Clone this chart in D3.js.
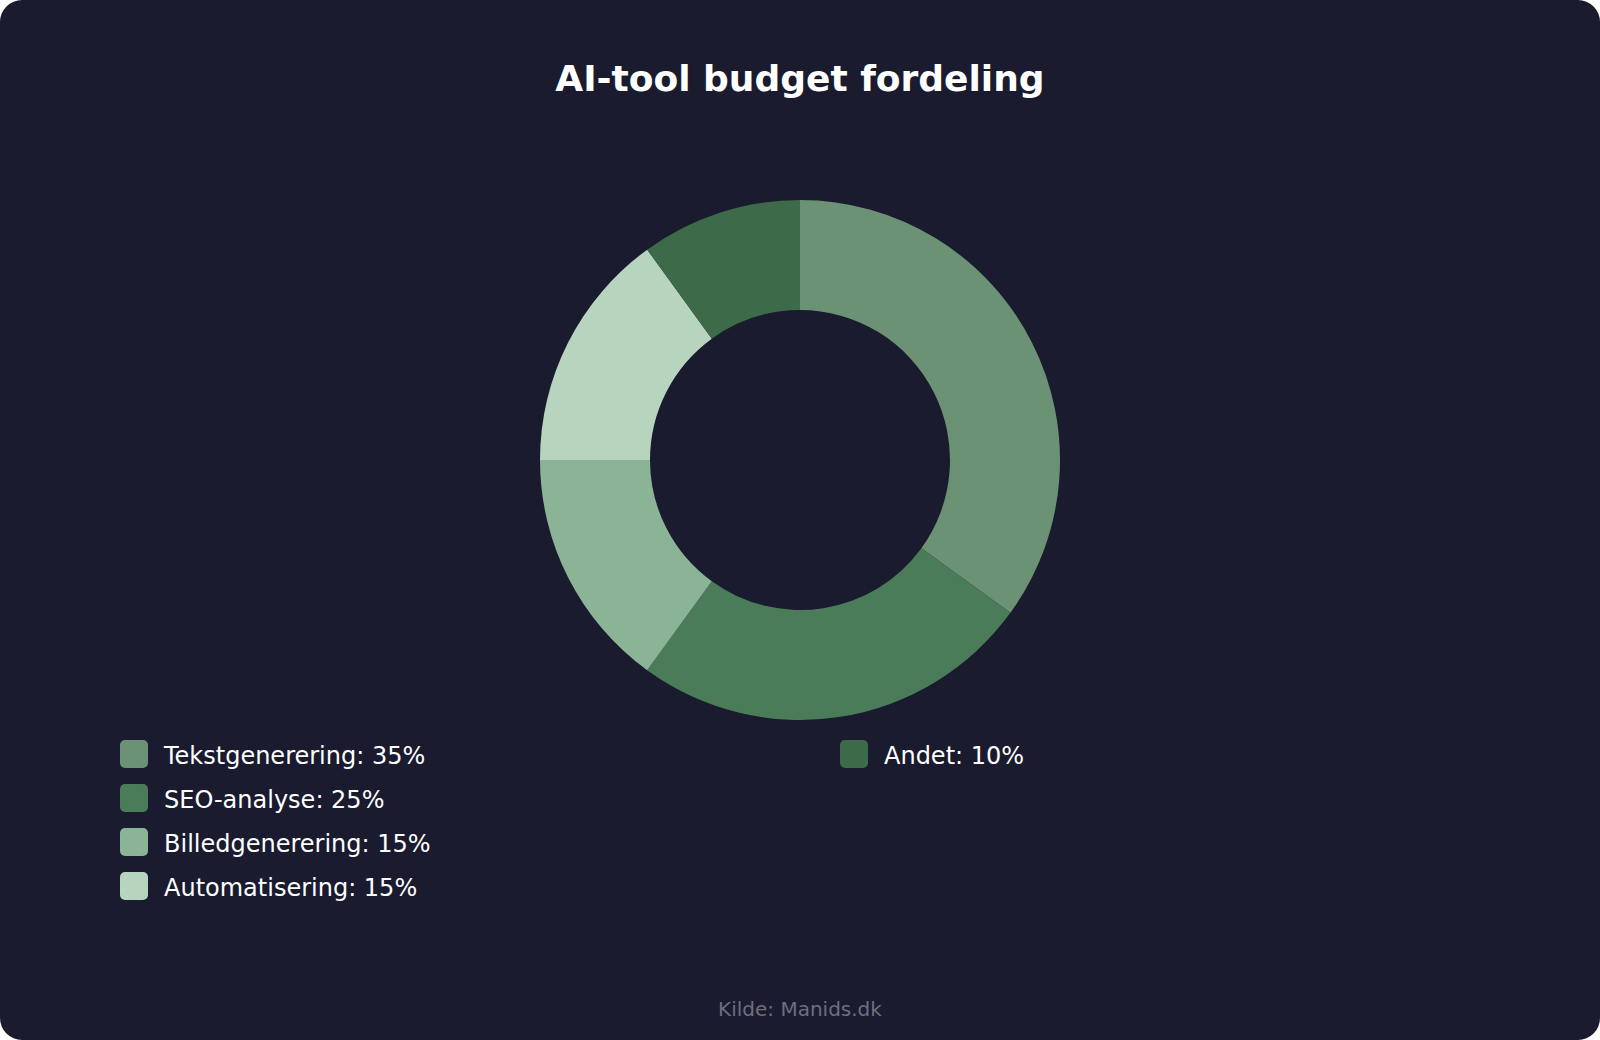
<!DOCTYPE html>
<html>
<head>
<meta charset="utf-8">
<script src="https://cdn.jsdelivr.net/npm/d3@7/dist/d3.min.js"></script>
<style>
  html, body { margin: 0; padding: 0; background: #ffffff; }
  svg { display: block; }
</style>
</head>
<body>
<svg id="chart" width="1600" height="1040"></svg>
<script>
const categories = ["Tekstgenerering", "SEO-analyse", "Billedgenerering", "Automatisering", "Andet"];
const values = [35, 25, 15, 15, 10];
const colors = ["#6c9276", "#4a7c59", "#8bb496", "#b7d4bf", "#3d6b4a"];
const title = "AI-tool budget fordeling";
const source = "Kilde: Manids.dk";

const W = 1600, H = 1040;
const svg = d3.select("#chart");
const font = "'DejaVu Sans', sans-serif";

svg.append("rect").attr("x", 0).attr("y", 0).attr("width", W).attr("height", H)
  .attr("rx", 22).attr("ry", 22).attr("fill", "#1a1b2e");

svg.append("text").attr("x", 800).attr("y", 91).attr("text-anchor", "middle")
  .attr("font-family", font).attr("font-size", 36).attr("font-weight", "bold")
  .attr("fill", "#ffffff").text(title);

const data = categories.map((c, i) => ({ cat: c, value: values[i], color: colors[i] }));
const pie = d3.pie().value(d => d.value).sort(null);
const arc = d3.arc().innerRadius(150).outerRadius(260);

const g = svg.append("g").attr("transform", "translate(800,460)");
g.selectAll("path").data(pie(data)).join("path")
  .attr("d", arc)
  .attr("fill", d => d.data.color);

// Legend: column-wise, 4 rows per column
const rowsPerCol = 4;
const colX = d3.scaleOrdinal().domain([0, 1]).range([120, 840]);
const rowY = d3.scaleLinear().domain([0, 1]).range([740, 784]);

const leg = svg.append("g");
const items = leg.selectAll("g").data(data).join("g")
  .attr("transform", (d, i) => `translate(${colX(Math.floor(i / rowsPerCol))},${rowY(i % rowsPerCol)})`);
items.append("rect").attr("width", 28).attr("height", 28).attr("rx", 5).attr("ry", 5)
  .attr("fill", d => d.color);
items.append("text").attr("x", 44).attr("y", 24)
  .attr("font-family", font).attr("font-size", 24).attr("fill", "#ffffff")
  .text(d => `${d.cat}: ${d.value}%`);

svg.append("text").attr("x", 800).attr("y", 1016).attr("text-anchor", "middle")
  .attr("font-family", font).attr("font-size", 20).attr("fill", "#6b6f80").text(source);
</script>
</body>
</html>
